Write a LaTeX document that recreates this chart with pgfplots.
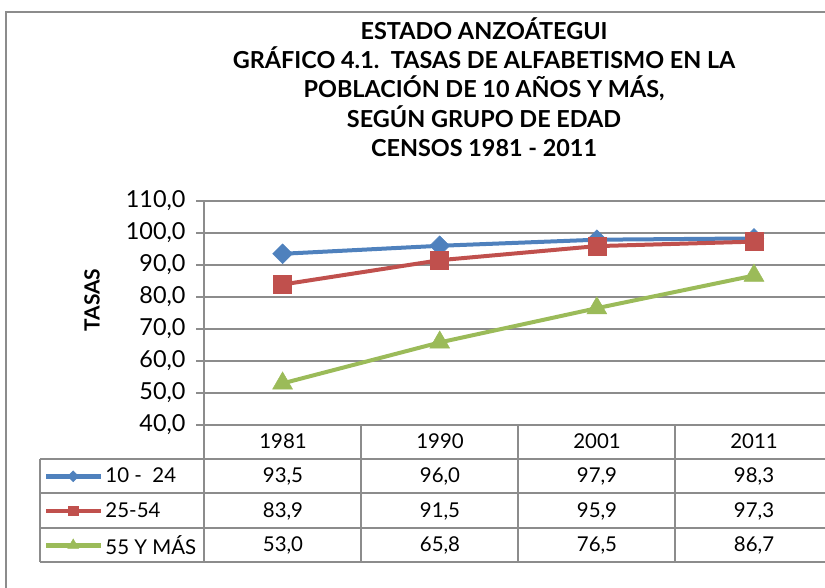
\documentclass[border=0pt]{standalone}
\usepackage{pgfplots}
\pgfplotsset{compat=1.18}
\usepackage{fontspec}
\setmainfont{Lato}
\definecolor{cblue}{HTML}{4F81BD}
\definecolor{cred}{HTML}{C0504D}
\definecolor{cgreen}{HTML}{9BBB59}
\definecolor{cgrid}{HTML}{8C8C8C}
\begin{document}
\begin{tikzpicture}[x=1bp,y=1bp]
\begin{axis}[
 at={(204bp,163bp)}, anchor=south west, scale only axis,
 width=621bp, height=224bp,
 xmin=-0.5, xmax=3.452, ymin=40, ymax=110,
 ytick={40,50,...,110}, xtick=\empty,
 axis lines*=left,
 axis line style={cgrid, line width=1.5bp},
 ymajorgrids, grid style={cgrid, line width=1.5bp},
 tick style={cgrid, line width=1.5bp}, major tick length=8bp, tick align=outside,
 ytick pos=left,
 yticklabel style={font=\fontsize{23.5}{26}\selectfont, xshift=-7bp},
 /pgf/number format/fixed, /pgf/number format/fixed zerofill,
 /pgf/number format/precision=1, /pgf/number format/use comma,
 /pgf/number format/assume math mode=true,
 ylabel={TASAS},
 ylabel style={at={(axis description cs:-0.1804,0.558)}, anchor=center, font=\bfseries\fontsize{21}{24}\selectfont},
 title={ESTADO ANZOÁTEGUI\\GRÁFICO 4.1.\ \ TASAS DE ALFABETISMO EN LA\\POBLACIÓN DE 10 AÑOS Y MÁS,\\SEGÚN GRUPO DE EDAD\\CENSOS 1981 - 2011},
 title style={at={(axis description cs:0.451,1.482)}, anchor=center, align=center, font=\bfseries\fontsize{23.5}{29.5}\selectfont},
 clip=false,
 legend style={at={(axis description cs:-0.2577,-0.152)}, anchor=north west, draw=none, fill=none,
   inner sep=0pt, outer sep=0pt, row sep=0pt, column sep=2bp,
   font=\fontsize{20.5}{24}\selectfont, nodes={inner sep=0pt, minimum height=34.5bp}},
 legend cell align=left,
 legend image code/.code={\draw[mark repeat=2,mark phase=2,line width=4.5bp,every mark/.append style={scale=0.55}] plot coordinates {(0bp,0bp)(27bp,0bp)(55bp,0bp)};},
]
\addplot[color=cblue, line width=4bp, mark=square*, mark size=7bp, mark options={rotate=45, line width=0.5bp}]
 coordinates {(0,93.5)(1,96.0)(2,97.9)(3,98.3)};
\addlegendentry{10 -~~24}
\addplot[color=cred, line width=4bp, mark=square*, mark size=9bp, mark options={line width=0.5bp}]
 coordinates {(0,83.9)(1,91.5)(2,95.9)(3,97.3)};
\addlegendentry{25-54}
\addplot[color=cgreen, line width=4bp, mark=triangle*, mark size=11.5bp, mark options={line width=0.5bp}]
 coordinates {(0,53.0)(1,65.8)(2,76.5)(3,86.7)};
\addlegendentry{55 Y MÁS}
\end{axis}
% data table grid
\begin{scope}[cgrid, line width=1.5bp]
\draw (40,129) -- (825,129);
\draw (40,95) -- (825,95);
\draw (40,60) -- (825,60);
\draw (40,26) -- (825,26);
\draw (40,129) -- (40,26);
\foreach \x in {204,361,518,675} \draw (\x,163) -- (\x,26);
\end{scope}
% outer frame
\draw[cgrid, line width=2bp] (6,0) -- (6,576) -- (825,576);
% table text
\begin{scope}[font=\fontsize{20.5}{24}\selectfont]
\foreach \x/\t in {283/1981,440/1990,597/2001,754/2011} \node[anchor=base] at (\x,139) {\t};
\foreach \x/\t in {283/{93,5},440/{96,0},597/{97,9},754/{98,3}} \node[anchor=base] at (\x,105) {\t};
\foreach \x/\t in {283/{83,9},440/{91,5},597/{95,9},754/{97,3}} \node[anchor=base] at (\x,70.5) {\t};
\foreach \x/\t in {283/{53,0},440/{65,8},597/{76,5},754/{86,7}} \node[anchor=base] at (\x,36) {\t};
\end{scope}
\pgfresetboundingbox
\useasboundingbox (0,0) rectangle (825,588);
\end{tikzpicture}
\end{document}
